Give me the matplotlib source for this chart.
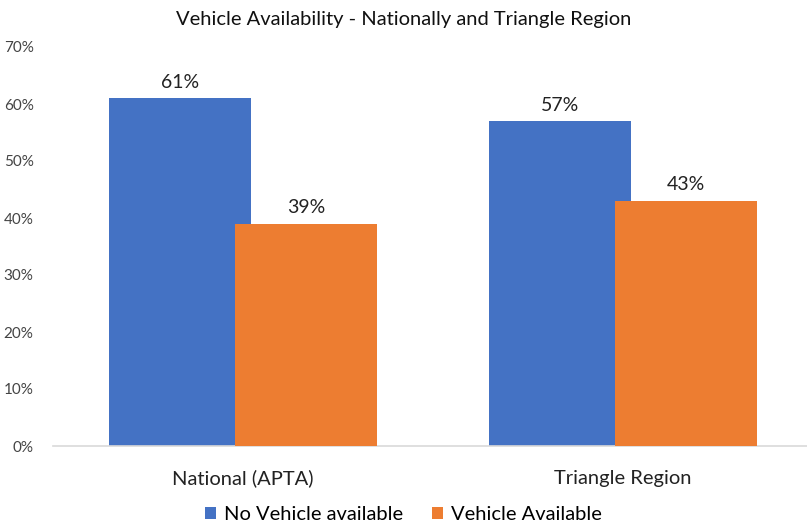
import numpy as np
import matplotlib.pyplot as plt
from matplotlib.ticker import PercentFormatter

categories = ['National (APTA)', 'Triangle Region']
no_vehicle = [61, 57]
vehicle = [39, 43]
series_names = ['No Vehicle available', 'Vehicle Available']

blue = '#4472C4'
orange = '#ED7D31'

plt.rcParams['font.family'] = ['Lato', 'DejaVu Sans']

fig = plt.figure(figsize=(8.07, 5.29), dpi=100)
ax = fig.add_axes([53 / 807, 1 - 446 / 529, 754 / 807, 399 / 529])

x = np.arange(len(categories))
w = 0.374
off = 0.166
b1 = ax.bar(x - off, no_vehicle, w, color=blue, label=series_names[0], zorder=2)
b2 = ax.bar(x + off, vehicle, w, color=orange, label=series_names[1], zorder=3)

for bars in (b1, b2):
    for r in bars:
        ax.text(r.get_x() + r.get_width() / 2, r.get_height() + 1.3,
                f'{r.get_height():.0f}%', ha='center', va='bottom',
                fontsize=14, color='#222222')

ax.set_xlim(-0.5, 1.485)
ax.set_ylim(0, 70)
ax.set_yticks(np.arange(0, 71, 10))
ax.yaxis.set_major_formatter(PercentFormatter(decimals=0))
ax.set_xticks(x)
ax.set_xticklabels(categories, fontsize=14.5, color='#222222')
ax.tick_params(axis='y', length=0, labelsize=11, colors='#444444', pad=14)
ax.tick_params(axis='x', length=0, pad=17)

for s in ('top', 'right', 'left'):
    ax.spines[s].set_visible(False)
ax.spines['bottom'].set_color('#D9D9D9')
ax.spines['bottom'].set_linewidth(1.2)

fig.text(0.5, 1 - 19 / 529, 'Vehicle Availability - Nationally and Triangle Region',
         ha='center', va='center', fontsize=14.5, color='#111111')

fig.legend(handles=[b1, b2], loc='center', bbox_to_anchor=(0.5, 1 - 515 / 529),
           ncol=2, frameon=False, fontsize=14.5, handlelength=0.55, handleheight=0.55,
           handletextpad=0.4, columnspacing=1.4)

fig.savefig('out.png', dpi=100)
